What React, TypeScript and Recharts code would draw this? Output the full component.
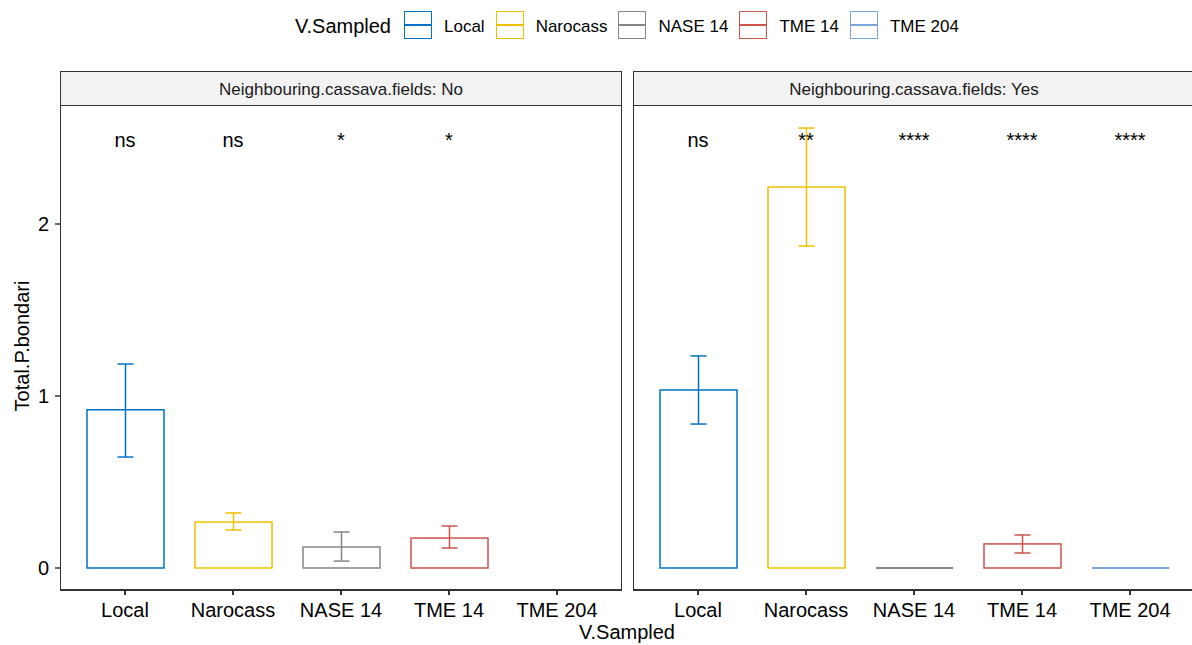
import React from 'react';
import { ComposedChart, Bar, Line, XAxis, YAxis, ErrorBar, LabelList } from 'recharts';

// --- data ---
const VARIETIES = ['Local', 'Narocass', 'NASE 14', 'TME 14', 'TME 204'];
const COLORS = ['#0073C2', '#EFC000', '#868686', '#CD534C', '#7AA6DC'];

// Neighbouring.cassava.fields: No
const NO_MEAN = [0.92, 0.267, 0.122, 0.174, null];
const NO_LOW = [0.645, 0.221, 0.04, 0.116, null];
const NO_HIGH = [1.186, 0.32, 0.209, 0.244, null];
const NO_SIG = ['ns', 'ns', '*', '*', null];

// Neighbouring.cassava.fields: Yes
const YES_MEAN = [1.035, 2.215, 0, 0.14, 0];
const YES_LOW = [0.837, 1.872, null, 0.087, null];
const YES_HIGH = [1.233, 2.558, null, 0.192, null];
const YES_SIG = ['ns', '**', '****', '****', '****'];

const Y_TICKS = [0, 1, 2];
const Y_DOMAIN = [-0.128, 2.692];
const SIG_Y = 2.49;

const FONT = '"Liberation Sans", Arial, sans-serif';

function buildRows(mean: (number | null)[], low: (number | null)[], high: (number | null)[], sig: (string | null)[]) {
  return VARIETIES.map((v, i) => {
    const row: any = { name: v };
    const m = mean[i];
    if (m != null) {
      row[v] = m;
      if (low[i] != null && high[i] != null) row[v + '_err'] = [m - (low[i] as number), (high[i] as number) - m];
    }
    if (sig[i]) {
      row.sig = sig[i];
      row.sigY = SIG_Y;
    }
    return row;
  });
}

const makeShape = (key: string, color: string) => (props: any) => {
  const { x, y, width, height, payload } = props;
  if (!payload || payload[key] == null) return <g />;
  if (Math.abs(height) < 0.5) {
    return <line x1={x} x2={x + width} y1={y} y2={y} stroke={color} strokeWidth={2} />;
  }
  return <rect x={x} y={y} width={width} height={height} fill="#fff" stroke={color} strokeWidth={1.5} />;
};

const sigLabel = (p: any) => {
  if (!p.value) return null;
  const x = p.x ?? p.viewBox?.x;
  const y = p.y ?? p.viewBox?.y;
  return (
    <text x={x} y={y} dy="0.35em" textAnchor="middle" fontSize={20} fill="#000" fontFamily={FONT}>
      {p.value}
    </text>
  );
};

function Panel({ rows, left, showY, title }: { rows: any[]; left: number; showY: boolean; title: string }) {
  const plotLeft = showY ? left + 60 : left;
  return (
    <>
      <div style={{
        position: 'absolute', left: plotLeft, top: 71, width: 562, height: 35, boxSizing: 'border-box',
        border: '1px solid #333', background: '#F2F2F2', display: 'flex', alignItems: 'center',
        justifyContent: 'center', fontSize: 17, color: '#1A1A1A', paddingTop: 3,
      }}>{title}</div>
      <div style={{ position: 'absolute', left, top: 105 }}>
        <ComposedChart width={showY ? 622 : 562} height={540} data={rows} margin={{ top: 0, right: 0, bottom: 0, left: 0 }}>
          <XAxis
            dataKey="name"
            height={55}
            padding={{ left: 11, right: 11 }}
            tick={{ fill: '#000', fontSize: 20, fontFamily: FONT }}
            tickLine={{ stroke: '#333', strokeWidth: 2 }}
            axisLine={{ stroke: '#333', strokeWidth: 2 }}
            tickSize={5}
            tickMargin={8}
            interval={0}
          />
          <YAxis
            hide={!showY}
            width={60}
            type="number"
            domain={Y_DOMAIN}
            allowDataOverflow
            ticks={Y_TICKS}
            tick={{ fill: '#000', fontSize: 20, fontFamily: FONT }}
            tickLine={{ stroke: '#333', strokeWidth: 1.5 }}
            axisLine={false}
            tickSize={5}
            tickMargin={6}
          />
          {VARIETIES.map((v, i) => (
            <Bar
              key={v}
              dataKey={v}
              stackId="a"
              barSize={77}
              shape={makeShape(v, COLORS[i])}
              isAnimationActive={false}
            >
              <ErrorBar
                dataKey={(d: any) => (d.payload ?? d)[v + '_err']}
                width={8}
                stroke={COLORS[i]}
                strokeWidth={1.5}
                isAnimationActive={false}
              />
            </Bar>
          ))}
          <Line dataKey="sigY" stroke="none" dot={false} activeDot={false} isAnimationActive={false}>
            <LabelList dataKey="sig" content={sigLabel} />
          </Line>
        </ComposedChart>
      </div>
      <div style={{
        position: 'absolute', left: plotLeft, top: 105, width: 562, height: 486,
        boxSizing: 'border-box', border: '1px solid #333', pointerEvents: 'none',
      }} />
    </>
  );
}

function Legend() {
  return (
    <div style={{ position: 'absolute', left: 295, top: 10, height: 29, display: 'flex', alignItems: 'center' }}>
      <span style={{ fontSize: 20, marginRight: 13, color: '#000', position: 'relative', top: 2 }}>V.Sampled</span>
      {VARIETIES.map((v, i) => (
        <React.Fragment key={v}>
          <div style={{
            position: 'relative', width: 28, height: 28, boxSizing: 'border-box',
            border: `1.5px solid ${COLORS[i]}`, background: '#fff',
          }}>
            <div style={{ position: 'absolute', left: 0, right: 0, top: 12.5, height: 1.5, background: COLORS[i] }} />
          </div>
          <span style={{ fontSize: 17, marginLeft: 12, marginRight: 11, color: '#000', position: 'relative', top: 2 }}>{v}</span>
        </React.Fragment>
      ))}
    </div>
  );
}

export default function App() {
  const noRows = buildRows(NO_MEAN, NO_LOW, NO_HIGH, NO_SIG);
  const yesRows = buildRows(YES_MEAN, YES_LOW, YES_HIGH, YES_SIG);
  return (
    <div style={{
      position: 'absolute', left: 0, top: 0, width: 1192, height: 645, overflow: 'hidden',
      background: '#fff', fontFamily: FONT,
    }}>
      <Legend />
      <Panel rows={noRows} left={0} showY title="Neighbouring.cassava.fields: No" />
      <Panel rows={yesRows} left={633} showY={false} title="Neighbouring.cassava.fields: Yes" />
      <div style={{
        position: 'absolute', left: 22, top: 346, transform: 'translate(-50%, -50%) rotate(-90deg)',
        whiteSpace: 'nowrap', fontSize: 20, color: '#000',
      }}>Total.P.bondari</div>
      <div style={{
        position: 'absolute', left: 627, top: 621, transform: 'translateX(-50%)',
        whiteSpace: 'nowrap', fontSize: 20, lineHeight: '22px', color: '#000',
      }}>V.Sampled</div>
    </div>
  );
}
